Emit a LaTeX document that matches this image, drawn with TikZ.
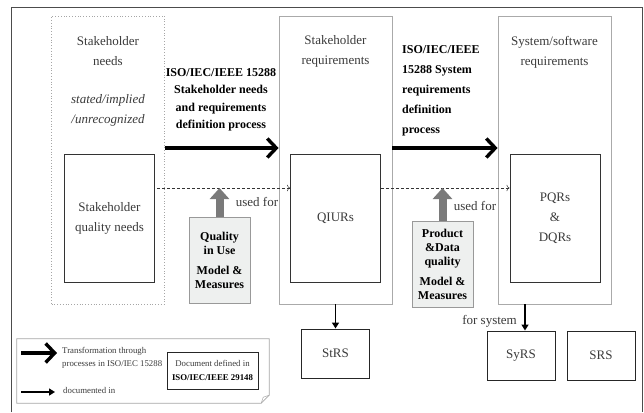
\documentclass[tikz,border=0pt]{standalone}
\usepackage{fontspec}
\setmainfont{Liberation Serif}
\usepackage{xcolor}
\usetikzlibrary{arrows.meta,positioning,calc}

\definecolor{txtgray}{HTML}{3A3A3A}
\definecolor{boxgray}{HTML}{AAAAAA}
\definecolor{fillgray}{HTML}{EEF0EF}
\definecolor{arrgray}{HTML}{7A7A7A}

\begin{document}
\begin{tikzpicture}[x=1pt, y=-1pt,
  grp/.style={draw=boxgray, line width=0.8pt, minimum width=113pt, minimum height=288pt, inner sep=0pt},
  grpdot/.style={grp, draw=gray!70, dotted},
  inbox/.style={draw=black!80, line width=0.9pt, minimum width=90pt, minimum height=128pt, inner sep=0pt,
                align=center, text=txtgray, font=\fontsize{13}{20}\selectfont},
  docbox/.style={draw=black!85, line width=1pt, minimum width=68pt, minimum height=49pt, inner sep=0pt,
                 text=txtgray, font=\fontsize{13}{20}\selectfont},
  qbox/.style={draw=gray!80, fill=fillgray, line width=0.8pt, minimum width=61pt, minimum height=86pt,
               inner sep=0pt, align=center, font=\fontsize{12}{14}\selectfont\bfseries},
  lbl/.style={align=center, text=txtgray, font=\fontsize{13}{20}\selectfont, inner sep=0pt},
  proc/.style={align=center, font=\fontsize{12}{17.5}\selectfont\bfseries, inner sep=0pt},
  small/.style={align=left, text=txtgray, font=\fontsize{8.8}{13}\selectfont, inner sep=0pt},
  bigarr/.style={-{Straight Barb[length=9pt, width=19pt]}, line width=3.4pt},
  docarr/.style={-{Triangle[length=6pt, width=7pt]}, line width=1.6pt},
  usedarr/.style={-{To[length=3pt]}, densely dashed, line width=0.5pt, draw=black!80},
  grayarr/.style={-{Triangle[length=11pt, width=19pt]}, line width=8pt, draw=arrgray}
]
\useasboundingbox (0,0) rectangle (644,412);
\draw[black!70, line width=0.8pt] (11,412) |- (642,7) -- (642,412);

% three columns
\node[grpdot] (needs) at (108,160) {};
\node[grp] (streq) at (335.5,160) {};
\node[grp] (sysreq) at (554.5,160) {};

\node[lbl] at (108,51) {Stakeholder\\needs};
\node[lbl, font=\fontsize{13}{20}\selectfont\itshape] at (108,110) {stated/implied\\/unrecognized};
\node[lbl] at (335.5,51) {Stakeholder\\requirements};
\node[lbl] at (554.5,52) {System/software\\requirements};

\node[inbox] (sqn) at (109.5,218) {Stakeholder\\quality needs};
\node[inbox] (qiur) at (335.5,218) {QIURs};
\node[inbox] (pqr) at (555,218) {PQRs\\\&\\DQRs};

% processes
\node[proc] (p1) at (221,100) {ISO/IEC/IEEE 15288\\Stakeholder needs\\and requirements\\definition process};
\node[proc, align=left, font=\fontsize{12}{20}\selectfont\bfseries, anchor=west] (p2) at (402,91)
  {ISO/IEC/IEEE\\15288 System\\requirements\\definition\\process};
\draw[bigarr] ([yshift=12pt]needs.east) -- ([yshift=12pt]streq.west);
\draw[bigarr] ([yshift=12pt]streq.east) -- ([yshift=12pt]sysreq.west);

% used for
\coordinate (u1) at ([yshift=30pt]sqn.east);
\coordinate (u2) at ([yshift=30pt]qiur.east);
\draw[usedarr] ([xshift=2pt]u1) -- (u1 -| qiur.west);
\draw[usedarr] (u2) -- (u2 -| pqr.west);

\node[qbox] (quse) at (219.5,260) {Quality\\in Use\\[6pt]Model \&\\Measures};
\node[qbox] (pdq) at (442.5,264) {Product\\\&Data\\quality\\[6pt]Model \&\\Measures};
\draw[grayarr] (quse.north) -- (quse.north |- u1);
\draw[grayarr] (pdq.north) -- (pdq.north |- u2);
\node[lbl] at (257,202) {used for};
\node[lbl] at (475,206) {used for};

% documents
\node[docbox] (strs) at (335.5,353.5) {StRS};
\node[docbox] (syrs) at (521,355.5) {SyRS};
\node[docbox] (srs) at (601,355.5) {SRS};
\draw[docarr] (streq.south) -- (strs.north);
\draw[docarr] ([xshift=4pt]syrs.north |- sysreq.south) -- ([xshift=4pt]syrs.north);
\node[lbl, anchor=east] at (517,321) {for system};

% legend
\node[minimum width=252pt, minimum height=64pt, inner sep=0pt] (legend) at (143,371) {};
\draw[gray!70, line width=0.7pt] (legend.north west) -- (legend.north east) -- ([yshift=8pt]legend.south east)
  -- ([xshift=-8pt]legend.south east) -- (legend.south west) -- cycle;
\draw[gray!70, line width=0.5pt] ([xshift=-8pt]legend.south east) -- ([xshift=-6pt,yshift=6pt]legend.south east)
  -- ([yshift=8pt]legend.south east);
\coordinate (la) at (21,353);
\coordinate (lb) at (57,353);
\draw[bigarr] (la) -- (lb);
\node[small, anchor=west] (ltr) at (62,358) {Transformation through\\processes in ISO/IEC 15288};
\coordinate (lc) at (21,392);
\coordinate (ld) at (55,392);
\draw[docarr] (lc) -- (ld);
\node[small, anchor=west] (ldoc) at (63,390) {documented in};
\node[draw=black!85, line width=1pt, minimum width=91pt, minimum height=37pt, inner sep=0pt, align=center,
      text=txtgray, font=\fontsize{8.8}{14}\selectfont] (ldef) at (212.5,370.5)
  {Document defined in\\\textcolor{black}{\bfseries ISO/IEC/IEEE 29148}};
\end{tikzpicture}
\end{document}
